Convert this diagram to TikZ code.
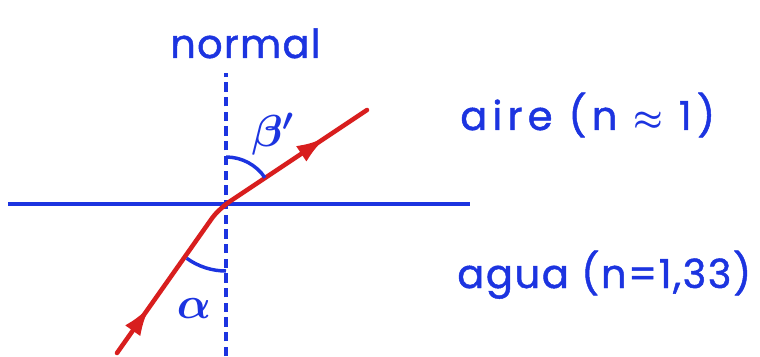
\documentclass[tikz,border=0pt]{standalone}
\usepackage{fontspec}
\setmainfont{Poppins}[FakeBold=1.2]
\usepackage{xcolor}
\usetikzlibrary{arrows.meta, decorations.markings}
\definecolor{ink-blue}{HTML}{1C34E0}
\definecolor{ink-red}{HTML}{D81E1E}

\begin{document}
\begin{tikzpicture}[x=0.02633cm, y=0.02633cm,
    every node/.style={font=\fontsize{30}{34}\selectfont, text=ink-blue, inner sep=0pt}]
  \useasboundingbox (0,0) rectangle (760,356);
  % interface point and ray ends
  \coordinate (o) at (226,152);
  \coordinate (bend) at (215,142);
  \coordinate (src) at (117,3);
  \coordinate (dst) at (367,246);
  \coordinate (ntop) at (226,283);
  \coordinate (nbot) at (226,0);
  \coordinate (sleft) at (8,152);
  \coordinate (sright) at (470,152);

  % surface and normal
  \draw[ink-blue, line width=2.8pt] (sleft) -- (sright);
  \draw[ink-blue, line width=2.8pt, dash pattern=on 7pt off 4pt] (nbot) -- (ntop);
  \node[anchor=base west] (normal) at (170,298) {\addfontfeature{LetterSpace=3}normal};

  % refracted ray
  \draw[ink-red, line width=3.4pt, line cap=round, rounded corners=4pt,
    postaction={decorate, decoration={markings,
      mark=at position 0.16 with {\arrow{Latex[length=22pt, width=14pt]}},
      mark=at position 0.86 with {\arrow{Latex[length=22pt, width=14pt]}}}}]
    (src) -- (bend) -- (o) -- (dst);

  % angles
  \draw[ink-blue, line width=2.6pt] (o) ++(234:67) arc[start angle=234, end angle=270, radius=67];
  \draw[ink-blue, line width=2.6pt] (o) ++(90:47) arc[start angle=90, end angle=34, radius=47];
  \node[scale=1.35, font=\fontsize{24}{26}\selectfont\boldmath] (beta) at (273,222) {$\beta'$};
  \node[scale=1.35, font=\fontsize{24}{26}\selectfont\boldmath] (alpha) at (194,47) {$\alpha$};

  % media
  \node[anchor=base west] (aire) at (460,226)
    {\addfontfeature{LetterSpace=13}aire (n {\boldmath$\approx$} 1)};
  \node[anchor=base west] (agua) at (457,68)
    {\addfontfeature{LetterSpace=4}agua (n=1,33)};
\end{tikzpicture}
\end{document}
